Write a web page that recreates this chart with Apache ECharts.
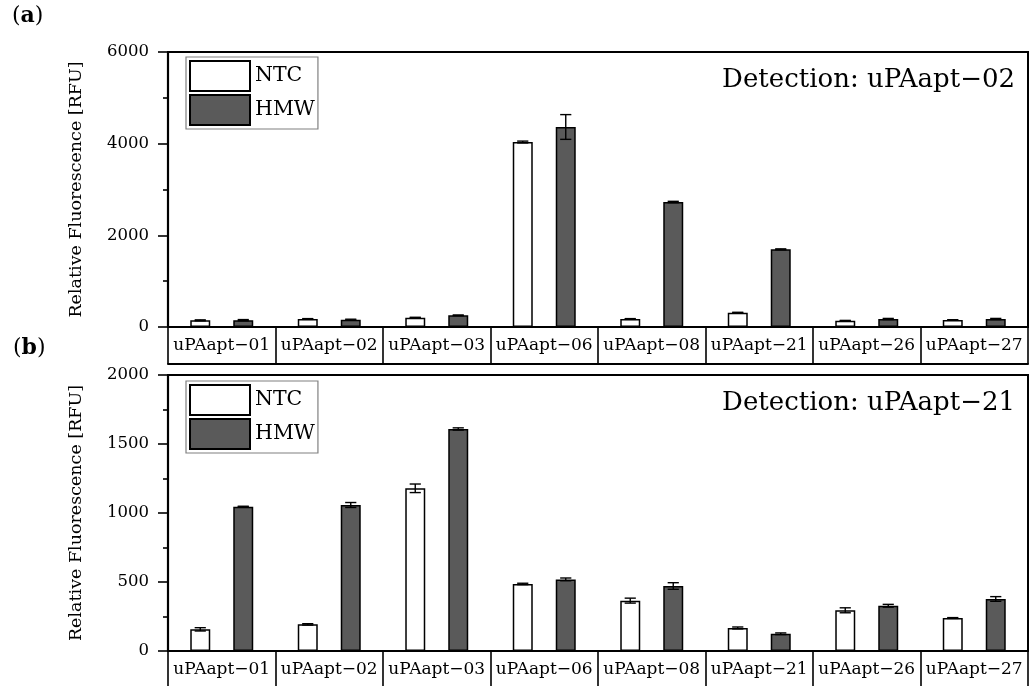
<!DOCTYPE html>
<html>
<head>
<meta charset="utf-8">
<script src="https://cdn.jsdelivr.net/npm/echarts@6/dist/echarts.min.js"></script>
<style>
html,body{margin:0;padding:0;background:#fff;}
#chart{width:1035px;height:686px;}
</style>
</head>
<body>
<div id="chart"></div>
<script>
const categories = ['uPAapt\u221201','uPAapt\u221202','uPAapt\u221203','uPAapt\u221206','uPAapt\u221208','uPAapt\u221221','uPAapt\u221226','uPAapt\u221227'];
const seriesNames = ['NTC','HMW'];
// Panel (a): Detection uPAapt-02
const ntcA = [146, 175, 204, 4036, 175, 313, 138, 153];
const ntcAErr = [10, 8, 8, 20, 8, 8, 6, 6];
const hmwA = [150, 160, 255, 4364, 2727, 1695, 175, 175];
const hmwAErr = [12, 10, 8, 270, 15, 10, 12, 12];
// Panel (b): Detection uPAapt-21
const ntcB = [157, 193, 1179, 486, 365, 167, 295, 239];
const ntcBErr = [12, 5, 31, 5, 18, 7, 18, 3];
const hmwB = [1046, 1058, 1609, 519, 471, 125, 328, 377];
const hmwBErr = [3, 18, 8, 10, 24, 6, 10, 17];
const yTicksA = {min: 0, max: 6000, interval: 2000};
const yTicksB = {min: 0, max: 2000, interval: 500};
const titles = ['Detection: uPAapt\u221202', 'Detection: uPAapt\u221221'];
const yName = 'Relative Fluorescence [RFU]';

const FONT = 'DejaVu Serif';
const chart = echarts.init(document.getElementById('chart'), null, {renderer: 'canvas'});

function errData(vals, errs) {
  return vals.map((v, i) => [i, v - errs[i], v + errs[i]]);
}
function errRender(sign) {
  return function (params, api) {
    const cat = api.value(0);
    const lo = api.value(1), hi = api.value(2);
    const band = api.size([1, 0])[0];
    const x = api.coord([cat, 0])[0] + sign * band * 0.2;
    const yLo = api.coord([cat, lo])[1];
    const yHi = api.coord([cat, hi])[1];
    const cw = band * 0.052;
    const st = {stroke: '#000', lineWidth: 1.4};
    return {type: 'group', children: [
      {type: 'line', shape: {x1: x, y1: yHi, x2: x, y2: yLo}, style: st},
      {type: 'line', shape: {x1: x - cw, y1: yHi, x2: x + cw, y2: yHi}, style: st},
      {type: 'line', shape: {x1: x - cw, y1: yLo, x2: x + cw, y2: yLo}, style: st}
    ]};
  };
}

const grids = [
  {left: 168, right: 7, top: 52, height: 275, show: true, borderColor: '#000', borderWidth: 2, backgroundColor: 'transparent'},
  {left: 168, right: 7, top: 375, height: 276, show: true, borderColor: '#000', borderWidth: 2, backgroundColor: 'transparent'}
];

function mainX(gi) {
  return {
    type: 'category', gridIndex: gi, data: categories, position: 'bottom',
    axisLine: {show: true, lineStyle: {color: '#000', width: 2.2}},
    axisTick: {show: true, alignWithLabel: false, length: 37, inside: false, lineStyle: {color: '#000', width: 1.6}},
    axisLabel: {color: '#000', fontFamily: FONT, fontSize: 17, margin: 10, interval: 0},
    splitLine: {show: false}
  };
}
function boxX(gi) {
  return {
    type: 'category', gridIndex: gi, data: categories, position: 'bottom', offset: 37,
    axisLine: {show: true, lineStyle: {color: '#000', width: 2}},
    axisTick: {show: false}, axisLabel: {show: false}, splitLine: {show: false}
  };
}
function mainY(gi, t) {
  return {
    type: 'value', gridIndex: gi, min: t.min, max: t.max, interval: t.interval,
    name: yName, nameLocation: 'middle', nameRotate: 90, nameGap: 83,
    nameTextStyle: {color: '#000', fontFamily: FONT, fontSize: 17.5},
    axisLine: {show: true, lineStyle: {color: '#000', width: 2.2}},
    axisTick: {show: true, length: 10, inside: false, lineStyle: {color: '#000', width: 1.6}},
    minorTick: {show: true, splitNumber: 2, length: 5, lineStyle: {color: '#000', width: 1.6}},
    axisLabel: {color: '#000', fontFamily: FONT, fontSize: 16.5, margin: 19, formatter: v => String(v)},
    splitLine: {show: false}, minorSplitLine: {show: false}
  };
}

function legendFor(top) {
  return {
    data: seriesNames, orient: 'vertical', left: 186, top: top,
    icon: 'rect', itemWidth: 60, itemHeight: 30, itemGap: 2,
    padding: [3, 3, 3, 3], borderColor: '#808080', borderWidth: 1.2,
    textStyle: {color: '#000', fontFamily: FONT, fontSize: 20.5},
    selectedMode: false
  };
}

function barSeries(name, xi, yi, data, color) {
  return {
    name: name, type: 'bar', xAxisIndex: xi, yAxisIndex: yi, data: data,
    barWidth: '18.6%', barGap: '115%',
    itemStyle: {color: color, borderColor: '#000', borderWidth: 1.5},
    emphasis: {disabled: true}, z: 2
  };
}
function errSeries(xi, yi, vals, errs, sign) {
  return {
    type: 'custom', xAxisIndex: xi, yAxisIndex: yi, data: errData(vals, errs),
    encode: {x: 0, y: [1, 2]}, renderItem: errRender(sign), z: 5, silent: true
  };
}

const labelStyle = {color: '#000', fontFamily: FONT, fontSize: 22, fontWeight: 'normal', rich: {b: {fontFamily: FONT, fontSize: 22, fontWeight: 'bold', color: '#000'}}};

const option = {
  animation: false,
  backgroundColor: '#fff',
  title: [
    {text: titles[0], right: 20, top: 67, padding: 0, textStyle: {color: '#000', fontFamily: FONT, fontSize: 26, fontWeight: 'normal'}},
    {text: titles[1], right: 20, top: 390, padding: 0, textStyle: {color: '#000', fontFamily: FONT, fontSize: 26, fontWeight: 'normal'}},
    {text: '({b|a})', left: 12, top: 5, padding: 0, textStyle: labelStyle},
    {text: '({b|b})', left: 13, top: 337, padding: 0, textStyle: labelStyle}
  ],
  legend: [legendFor(57), legendFor(381)],
  grid: grids,
  xAxis: [mainX(0), boxX(0), mainX(1), boxX(1)],
  yAxis: [mainY(0, yTicksA), mainY(1, yTicksB)],
  series: [
    barSeries('NTC', 0, 0, ntcA, '#ffffff'),
    barSeries('HMW', 0, 0, hmwA, '#5a5a5a'),
    errSeries(0, 0, ntcA, ntcAErr, -1),
    errSeries(0, 0, hmwA, hmwAErr, 1),
    barSeries('NTC', 2, 1, ntcB, '#ffffff'),
    barSeries('HMW', 2, 1, hmwB, '#5a5a5a'),
    errSeries(2, 1, ntcB, ntcBErr, -1),
    errSeries(2, 1, hmwB, hmwBErr, 1)
  ]
};
chart.setOption(option);
</script>
</body>
</html>
